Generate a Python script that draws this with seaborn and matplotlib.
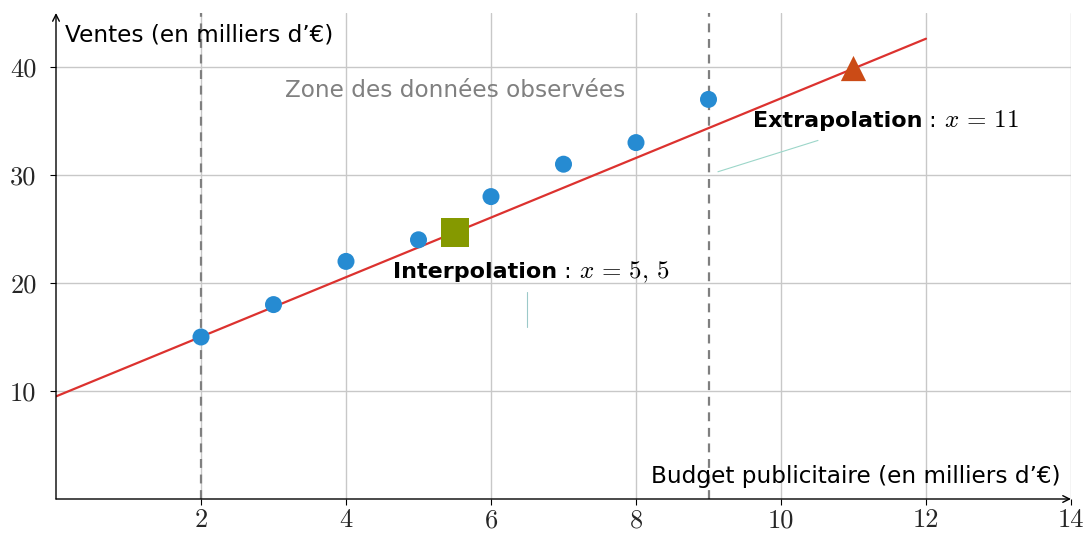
import numpy as np
import pandas as pd
import matplotlib
matplotlib.use("Agg")
import matplotlib.pyplot as plt
import seaborn as sns

# ---- data ----
budget = [2, 3, 4, 5, 6, 7, 8, 9]
ventes = [15, 18, 22, 24, 28, 31, 33, 37]
slope = 2.76
intercept = 9.5
line_x = [0, 12]
interp_x = 5.5
extrap_x = 11
obs_zone = [2, 9]
xticks = [2, 4, 6, 8, 10, 12, 14]
yticks = [10, 20, 30, 40]

SANS = ["DejaVu Sans"]
FS = 16.7
BFS = 16
MFS = 18
TFS = 19

sns.set_theme(style="white")
plt.rcParams["font.family"] = SANS
plt.rcParams["mathtext.fontset"] = "custom"
plt.rcParams["mathtext.rm"] = "cmr10"
plt.rcParams["mathtext.it"] = "cmmi10"

fig = plt.figure(figsize=(10.88, 5.34), dpi=100)
ax = fig.add_axes([56 / 1088, 35 / 534, 1015 / 1088, 486 / 534])
ax.set_xlim(0, 14)
ax.set_ylim(0, 45)

# grid
for gx in xticks:
    ax.axvline(gx, color="#c8c8c8", lw=1, zorder=0)
for gy in yticks:
    ax.axhline(gy, color="#c8c8c8", lw=1, zorder=0)

# observed zone bounds
for zx in obs_zone:
    ax.axvline(zx, color="#7f7f7f", lw=1.6, ls=(0, (4, 3)), zorder=1)

# regression line
df_line = pd.DataFrame({"x": line_x, "y": [intercept + slope * v for v in line_x]})
sns.lineplot(data=df_line, x="x", y="y", color="#dc322f", lw=1.6, ax=ax, zorder=3)

# observed points
df = pd.DataFrame({"budget": budget, "ventes": ventes})
sns.scatterplot(data=df, x="budget", y="ventes", color="#268bd2", s=150,
                edgecolor="none", ax=ax, zorder=4)

# interpolation / extrapolation markers
sns.scatterplot(x=[interp_x], y=[intercept + slope * interp_x], marker="s",
                color="#859900", s=420, edgecolor="none", ax=ax, zorder=5)
sns.scatterplot(x=[extrap_x], y=[intercept + slope * extrap_x], marker="^",
                color="#cb4b16", s=330, edgecolor="none", ax=ax, zorder=5)

# pins
ax.plot([6.5, 6.5], [15.9, 19.2], color="#9cc9c9", lw=0.8, zorder=2)
ax.plot([9.13, 10.51], [30.3, 33.2], color="#9cd6c9", lw=0.8, zorder=2)


def label(x0, y0, bold, math):
    t1 = ax.text(x0, y0, bold, fontsize=BFS, fontweight="bold", ha="left",
                 va="baseline", color="black", zorder=6)
    t2 = ax.annotate(" : ", xy=(1, y0), xycoords=(t1, "data"), fontsize=BFS,
                     ha="left", va="baseline", color="black", zorder=6)
    ax.annotate(math, xy=(1, y0), xycoords=(t2, "data"), fontsize=MFS,
                ha="left", va="baseline", color="black", zorder=6)


# texts
ax.text(5.5, 37.2, "Zone des données observées", color="#808080", fontsize=FS,
        ha="center", va="baseline")
label(4.65, 20.46, "Interpolation", r"$x\,=\,5,\,5$")
label(9.61, 34.44, "Extrapolation", r"$x\,=\,11$")

ax.text(0.124, 42.34, "Ventes (en milliers d’€)", fontsize=FS, ha="left",
        va="baseline", color="black")
ax.text(13.85, 1.48, "Budget publicitaire (en milliers d’€)", fontsize=FS,
        ha="right", va="baseline", color="black")

# axes with arrows
for s in ax.spines.values():
    s.set_visible(False)
ax.annotate("", xy=(1, 0), xytext=(0, 0), xycoords="axes fraction",
            arrowprops=dict(arrowstyle="->", lw=1, color="black", shrinkA=0, shrinkB=0))
ax.annotate("", xy=(0, 1), xytext=(0, 0), xycoords="axes fraction",
            arrowprops=dict(arrowstyle="->", lw=1, color="black", shrinkA=0, shrinkB=0))

ax.set_xticks(xticks)
ax.set_yticks(yticks)
ax.set_xticklabels([str(v) for v in xticks], fontfamily="cmr10", fontsize=TFS)
ax.set_yticklabels([str(v) for v in yticks], fontfamily="cmr10", fontsize=TFS)
ax.tick_params(axis="x", direction="out", length=4, width=0.8, color="black",
               bottom=True, pad=3)
ax.tick_params(axis="y", direction="out", length=4, width=0.8, color="black",
               left=True, pad=10)
ax.set_xlabel("")
ax.set_ylabel("")

fig.savefig("out.png", dpi=100)
